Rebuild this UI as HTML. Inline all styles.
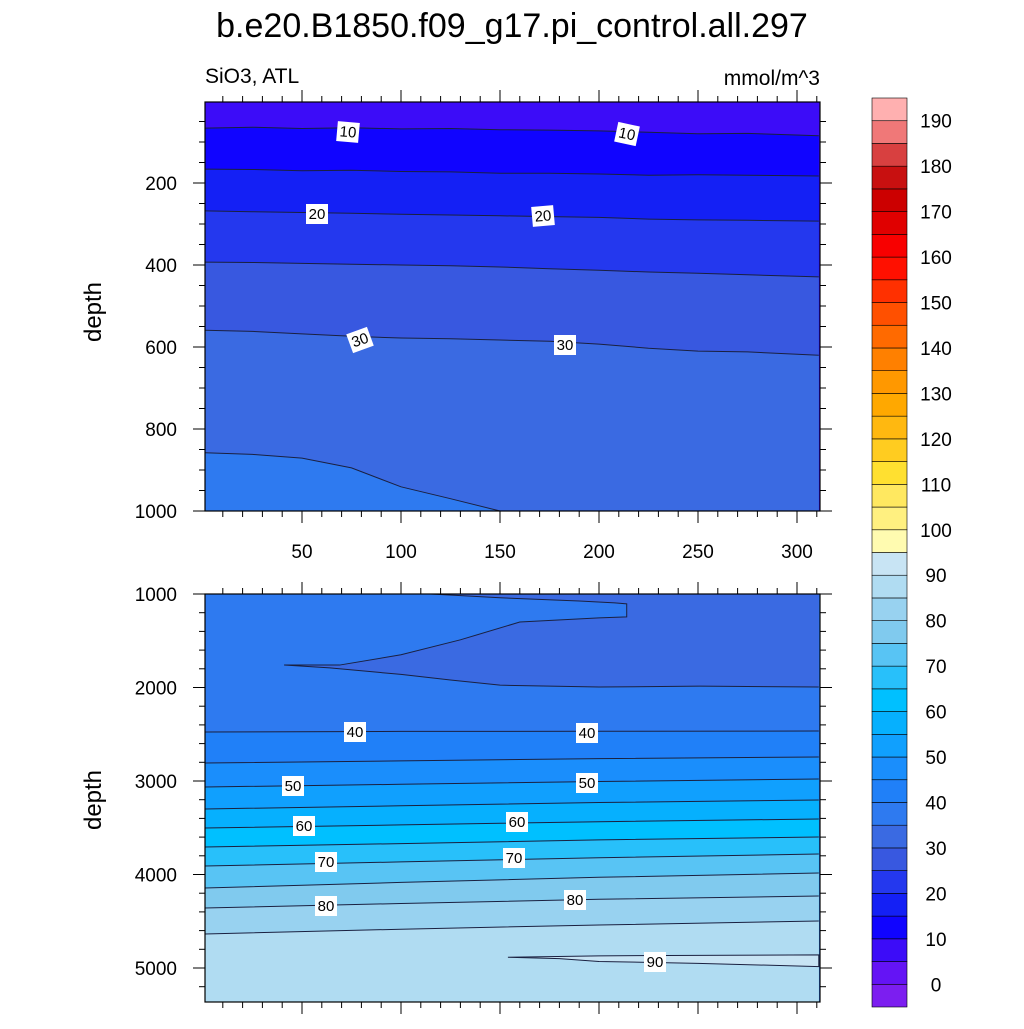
<!DOCTYPE html>
<html><head><meta charset="utf-8"><style>
body{margin:0;background:#fff;}
svg text{font-family:"Liberation Sans",Arial,sans-serif;}
</style></head><body>
<svg id="chart" width="1024" height="1024" viewBox="0 0 1024 1024" xmlns="http://www.w3.org/2000/svg">
<defs>
<clipPath id="clipTop"><rect x="205" y="102" width="615" height="409"/></clipPath>
<clipPath id="clipBot"><rect x="205" y="594" width="615" height="408"/></clipPath>
</defs>
<text x="512" y="37" font-size="34" text-anchor="middle">b.e20.B1850.f09_g17.pi_control.all.297</text>
<text x="205" y="83" font-size="21">SiO3, ATL</text>
<text x="820" y="85" font-size="21" text-anchor="end">mmol/m^3</text>
<g id="topPanel"></g>
<g id="botPanel"></g>
<g id="colorbar"></g>
<text transform="translate(101,312) rotate(-90)" font-size="24" text-anchor="middle">depth</text>
<text transform="translate(101,800) rotate(-90)" font-size="24" text-anchor="middle">depth</text>
</svg>
<script>
const NS="http://www.w3.org/2000/svg";
// ---- data ----
const levels=[0,5,10,15,20,25,30,35,40,45,50,55,60,65,70,75,80,85,90,95,100,105,110,115,120,125,130,135,140,145,150,155,160,165,170,175,180,185,190];
const levelColors=["#7c1ef0","#6414f5","#3c0cf8","#1004ff","#1420f5","#2438ee","#3858e0","#3a6ae2","#2e7af0","#2080f8","#1a8efc","#10a0fe","#06b0fe","#00c0ff","#28c0fa","#58c4f4","#80caee","#98d2f0","#b0dcf2","#c8e4f4","#fffbb0","#fff080","#ffe860","#ffe030","#ffcc20","#ffb810","#ffa800","#ff9800","#ff8000","#ff6a00","#ff5000","#ff3000","#ff1000","#f80000","#e00000","#cc0000","#c81010","#d84040","#f07878","#ffb0b0"];
const cbLabels=[0,10,20,30,40,50,60,70,80,90,100,110,120,130,140,150,160,170,180,190];
const xTicks=[50,100,150,200,250,300];
const topYTicks=[200,400,600,800,1000];
const botYTicks=[1000,2000,3000,4000,5000];
const topX=[1,25,50,75,100,125,150,175,200,225,250,275,311];
const topLevels=[10,15,20,25,30,35];
const topDepths=[
 [66,64,67,65,68,67,70,71,73,76,80,79,85],
 [166,167,170,169,172,173,176,176,178,181,180,181,183],
 [268,270,272,274,276,278,280,282,284,288,290,291,293],
 [393,394,396,398,400,402,405,409,413,417,420,424,429],
 [559,562,568,574,578,580,583,586,593,603,610,612,620],
 [858,862,871,895,941,970,1000,1100,1100,1100,1100,1100,1100]
];
const botX=[1,100,200,311];
const botLevels=[40,45,50,55,60,65,70,75,80,85];
const botDepths=[
 [2476,2470,2468,2465],
 [2808,2785,2760,2743],
 [3064,3035,3005,2979],
 [3299,3265,3230,3203],
 [3503,3470,3435,3406],
 [3706,3670,3630,3599],
 [3909,3865,3820,3781],
 [4144,4085,4030,3984],
 [4358,4310,4265,4230],
 [4636,4585,4540,4497]
];
const tongueUpX=[115,150,190,208,214,214,200,160,130,100,69,41];
const tongueUpD=[1000,1040,1075,1095,1105,1245,1255,1300,1490,1650,1760,1760];
const tongueLowX=[41,64,100,125,150,200,251,311];
const tongueLowD=[1760,1790,1860,1920,1975,1995,1985,1995];
const n90TopX=[154,200,250,311];
const n90TopD=[4885,4870,4865,4860];
const n90BotX=[154,180,200,250,311];
const n90BotD=[4885,4900,4930,4950,4985];

function colorFor(v){const i=levels.findIndex(l=>l>v);return levelColors[i===-1?levels.length:i];}
const xS=x=>203+x*1.98;
const topY=d=>101+d*0.41;
const botY=d=>594+(d-1000)*0.0935;

function mk(tag,attrs,parent){const e=document.createElementNS(NS,tag);for(const k in attrs)e.setAttribute(k,attrs[k]);parent.appendChild(e);return e;}

function drawPanel(g,clip,X,levs,depths,yS,bottomD,topColorLevel){
  const cg=mk('g',{'clip-path':'url(#'+clip+')'},g);
  const bg=mk('rect',{x:205,y:yS===topY?102:594,width:615,height:409,fill:colorFor(topColorLevel)},cg);
  
  
  levs.forEach((lv,i)=>{
    const pts=X.map((x,j)=>xS(x).toFixed(1)+','+yS(depths[i][j]).toFixed(1));
    const poly=mk('polygon',{points:pts.join(' ')+' '+xS(X[X.length-1])+','+yS(bottomD)+' '+xS(X[0])+','+yS(bottomD),fill:colorFor(lv+0.1)},cg);
    
    
    const ln=mk('polyline',{points:pts.join(' '),fill:'none',stroke:'#1a2040','stroke-width':1},cg);
    
    
  });
  return cg;
}
const topG=document.getElementById('topPanel');
drawPanel(topG,'clipTop',topX,topLevels,topDepths,topY,1200,5);
const botG=document.getElementById('botPanel');
const botC=drawPanel(botG,'clipBot',botX,botLevels,botDepths,botY,5500,37);
{
  const low=tongueLowX.map((x,j)=>xS(x)+','+botY(tongueLowD[j]));
  const dark=mk('polygon',{points:low.join(' ')+' '+xS(311)+','+botY(900)+' '+xS(41)+','+botY(900),fill:colorFor(32)},botC);
  
  
  const up=tongueUpX.map((x,j)=>xS(x)+','+botY(tongueUpD[j]));
  const light=mk('polygon',{points:up.join(' ')+' '+xS(0)+','+botY(1760)+' '+xS(0)+','+botY(900),fill:colorFor(37)},botC);
  
  
  const l1=mk('polyline',{points:low.join(' '),fill:'none',stroke:'#1a2040','stroke-width':1},botC);
  
  
  const l2=mk('polyline',{points:up.join(' '),fill:'none',stroke:'#1a2040','stroke-width':1},botC);
  
  
  const top=n90TopX.map((x,j)=>xS(x)+','+botY(n90TopD[j]));
  const bot=n90BotX.map((x,j)=>xS(x)+','+botY(n90BotD[j])).reverse();
  const p90=mk('polygon',{points:top.concat(bot).join(' '),fill:colorFor(92),stroke:'#1a2040','stroke-width':1},botC);
  
  
}
function label(g,txt,x,y,rot){
  const lg=mk('g',{transform:'translate('+x+','+y+') rotate('+(rot||0)+')'},g);
  
  
  mk('rect',{x:-11,y:-10,width:22,height:20,fill:'#fff'},lg);
  const t=mk('text',{x:0,y:5,'font-size':15,'text-anchor':'middle'},lg);t.textContent=txt;
}
label(topG,'10',348,132,5);label(topG,'10',627,134,12);
label(topG,'20',317,214,0);label(topG,'20',543,216,-5);
label(topG,'30',360,340,-20);label(topG,'30',565,345,0);
label(botG,'40',355,732,0);label(botG,'40',587,733,0);
label(botG,'50',293,786,0);label(botG,'50',587,783,0);
label(botG,'60',304,826,0);label(botG,'60',517,822,0);
label(botG,'70',326,862,0);label(botG,'70',514,858,0);
label(botG,'80',326,906,0);label(botG,'80',575,900,0);
label(botG,'90',655,962,0);
function axes(g,y0,y1,yTicks,yS,yMinorStep,yMin,yMax,showX,pfx){
  const fr=mk('rect',{x:205,y:y0,width:615,height:y1-y0,fill:'none',stroke:'#000','stroke-width':1.2},g);
  
  
  const tk=mk('g',{stroke:'#000','stroke-width':1},g);
  for(let x=10;x<=310;x+=10){
    const px=xS(x),L=(x%50===0)?12:6;
    mk('line',{x1:px,y1:y0,x2:px,y2:y0-L},tk);
    mk('line',{x1:px,y1:y1,x2:px,y2:y1+L},tk);
  }
  for(let d=yMin;d<=yMax;d+=yMinorStep){
    const py=yS(d);if(py<y0-0.5||py>y1+0.5)continue;
    const L=yTicks.includes(d)?12:6;
    mk('line',{x1:205,y1:py,x2:205-L,y2:py},tk);
    mk('line',{x1:820,y1:py,x2:820+L,y2:py},tk);
  }
  yTicks.forEach(d=>{const t=mk('text',{x:177,y:yS(d)+7,'font-size':19,'text-anchor':'end'},g);
    
    
    t.textContent=d;});
  if(showX)xTicks.forEach(x=>{const t=mk('text',{x:xS(x),y:558,'font-size':19,'text-anchor':'middle'},g);
    
    
    t.textContent=x;});
}
axes(topG,102,511,topYTicks,topY,50,50,1000,true,'top');
axes(botG,594,1002,botYTicks,botY,200,1000,5400,false,'bottom');
const cb=document.getElementById('colorbar');
const boxH=909/levelColors.length;
levelColors.forEach((c,i)=>{
  const r=mk('rect',{x:872,y:(1007-(i+1)*boxH).toFixed(2),width:35,height:boxH.toFixed(2),fill:c,stroke:'#000','stroke-width':0.6},cb);
  
  
});
cbLabels.forEach(v=>{
  const i=levels.indexOf(v)+1;
  const t=mk('text',{x:936,y:1007-i*boxH+7,'font-size':19,'text-anchor':'middle'},cb);
  
  
  t.textContent=v;
});
</script>
</body></html>
